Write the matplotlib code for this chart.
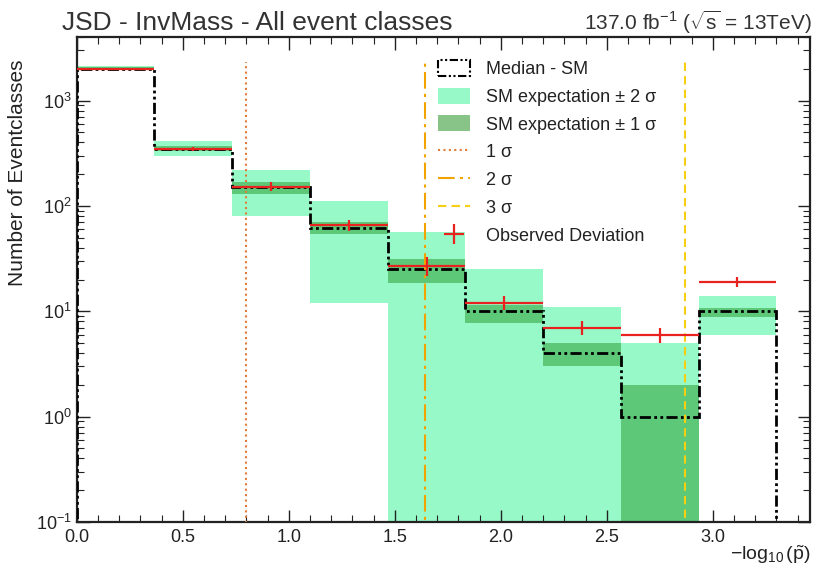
import numpy as np
import matplotlib
matplotlib.use("Agg")
import matplotlib.pyplot as plt
from matplotlib.patches import Patch
from matplotlib.lines import Line2D
from matplotlib.ticker import LogLocator, MultipleLocator, NullFormatter

plt.rcParams['font.family'] = ['Liberation Sans', 'DejaVu Sans']
plt.rcParams['mathtext.fontset'] = 'custom'
plt.rcParams['mathtext.rm'] = 'Liberation Sans'
plt.rcParams['mathtext.it'] = 'Liberation Sans:italic'

# ---- data ----
bin_edges = np.linspace(0.0, 3.3, 10)
median_sm = [2000, 350, 150, 62, 25, 10, 4, 1, 10]
band2_lo = [1950, 300, 81, 12, 0.001, 0.001, 0.001, 0.001, 6]
band2_hi = [2150, 410, 220, 112, 56, 25, 11, 5, 14]
band1_lo = [1980, 335, 130, 54, 18.6, 7.8, 3.0, 0.001, 8.8]
band1_hi = [2080, 370, 167, 70, 31, 11.4, 5.0, 2.0, 10.8]
observed = [2000, 350, 152, 66, 27, 12, 7, 6, 19]
observed_err = [40, 15, 15, 8, 5.5, 1.8, 1.0, 1.0, 2.0]
sigma_lines = [0.7995, 1.643, 2.870]
sigma_labels = ["1 σ", "2 σ", "3 σ"]

# ---- style ----
c_band2 = "#98f9c8"
c_band1 = "#5cc878"
c_leg1 = "#88c488"
c_obs = "#e8231f"
sig_styles = [dict(color="#e07b39", ls=(0, (1, 1.6)), lw=1.5),
              dict(color="#f2a300", ls=(0, (8, 2.5, 1.5, 2.5)), lw=1.5),
              dict(color="#f5cf10", ls=(0, (4, 2.5)), lw=1.5)]
med_ls = (0, (4, 1.2, 1, 1.2, 1, 1.2))

fig = plt.figure(figsize=(8.16, 5.71), dpi=100)
ax = fig.add_axes([0.094, 0.086, 0.899, 0.849])

edges = np.asarray(bin_edges)
lefts = edges[:-1]
widths = np.diff(edges)
centers = lefts + widths / 2

b2lo = np.asarray(band2_lo); b2hi = np.asarray(band2_hi)
b1lo = np.asarray(band1_lo); b1hi = np.asarray(band1_hi)
ax.bar(lefts, b2hi - b2lo, bottom=b2lo, width=widths, align='edge',
       color=c_band2, edgecolor='none', zorder=1)
ax.bar(lefts, b1hi - b1lo, bottom=b1lo, width=widths, align='edge',
       color=c_band1, edgecolor='none', zorder=2)

ax.stairs(median_sm, edges, baseline=1e-3, color='black', lw=2.0,
          linestyle=med_ls, zorder=3)

ax.errorbar(centers, observed, xerr=widths / 2, yerr=observed_err, fmt='none',
            ecolor=c_obs, elinewidth=1.6, capsize=0, zorder=5)

for x, st in zip(sigma_lines, sig_styles):
    ax.vlines(x, 1e-3, 2300, zorder=4, **st)

ax.set_yscale('log')
ax.set_xlim(0, 3.46)
ax.set_ylim(0.1, 4000)

ax.xaxis.set_major_locator(MultipleLocator(0.5))
ax.xaxis.set_minor_locator(MultipleLocator(0.1))
ax.yaxis.set_major_locator(LogLocator(base=10, numticks=10))
ax.yaxis.set_minor_locator(LogLocator(base=10, subs=np.arange(2, 10), numticks=20))
ax.yaxis.set_minor_formatter(NullFormatter())
ax.tick_params(which='both', direction='in', top=True, right=True, labelsize=13,
               colors='#222222')
ax.tick_params(axis='x', pad=5)
ax.tick_params(which='major', length=9, width=1.0)
ax.tick_params(which='minor', length=5, width=0.8)
for s in ax.spines.values():
    s.set_linewidth(1.6)
    s.set_color('#222222')

ax.set_ylabel("Number of Eventclasses", fontsize=15, color='#222222')
ax.yaxis.set_label_coords(-0.068, 0.72)
ax.set_xlabel(r"$-\log_{10}(\tilde{\mathrm{p}})$", fontsize=14, color='#222222')
ax.xaxis.set_label_coords(1.0, -0.045)
ax.xaxis.label.set_horizontalalignment('right')
ax.xaxis.label.set_verticalalignment('top')

fig.text(0.076, 0.948, "JSD - InvMass - All event classes", fontsize=19,
         color='#333333', ha='left', va='baseline')
fig.text(0.995, 0.948, r"137.0 fb$^{-1}$ ($\sqrt{\mathrm{s}}$ = 13TeV)", fontsize=15,
         color='#333333', ha='right', va='baseline')

handles = [
    Patch(facecolor='none', edgecolor='black', linestyle=med_ls, lw=1.5),
    Patch(facecolor=c_band2, edgecolor='none'),
    Patch(facecolor=c_leg1, edgecolor='none'),
    Line2D([], [], **sig_styles[0]),
    Line2D([], [], **sig_styles[1]),
    Line2D([], [], **sig_styles[2]),
    Line2D([], [], color=c_obs, marker='+', markersize=14, mew=1.6, lw=0),
]
labels = ["Median - SM", "SM expectation ± 2 σ", "SM expectation ± 1 σ"] + sigma_labels + ["Observed Deviation"]
leg = ax.legend(handles, labels, loc='upper left', bbox_to_anchor=(0.47, 0.987),
                frameon=False, fontsize=13, handlelength=1.8, handleheight=1.0,
                labelspacing=0.53, handletextpad=0.9)
for t in leg.get_texts():
    t.set_color('#222222')

fig.savefig("out.png", dpi=100)
